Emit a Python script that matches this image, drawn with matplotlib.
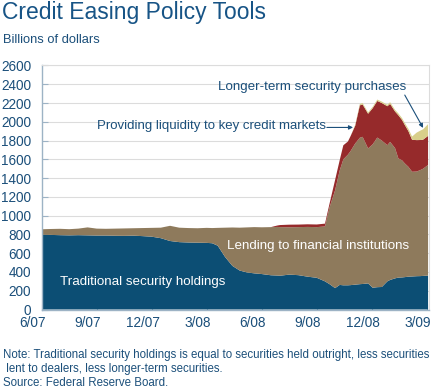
import matplotlib
matplotlib.use("Agg")
import matplotlib.pyplot as plt
import matplotlib.transforms as mtransforms
import numpy as np

plt.rcParams['font.family'] = ['Liberation Sans', 'DejaVu Sans']

# months since start of 6/07
months = [0, 0.5, 1, 1.5, 2, 2.5, 3, 3.5, 4, 4.5, 5, 5.5, 6, 6.5, 7, 7.5, 8, 8.5, 9,
          9.3, 9.6, 10.0, 10.4, 10.8, 11.2, 11.6, 12.0, 12.5,
          12.85, 13.0, 13.5, 14.0, 14.5, 15.0,
          15.45, 15.7, 16.0, 16.25, 16.45, 16.7, 16.85,
          17.1, 17.35, 17.5, 17.8, 18.05, 18.3, 18.55, 18.85,
          19.0, 19.27, 19.45, 19.65, 19.8, 20.0, 20.2, 20.45, 20.65, 20.8, 21.07]

# billions of dollars
traditional = [796, 795, 792, 790, 792, 790, 788, 788, 786, 785, 787, 782, 776, 760, 730, 718, 714, 712, 710,
               706, 680, 560, 465, 415, 395, 385, 378, 365,
               362, 360, 372, 366, 350, 338,
               300, 270, 228, 262, 258, 258, 260,
               265, 270, 272, 278, 232, 238, 240, 300,
               315, 332, 340, 342, 345, 350, 352, 355, 356, 358, 362]
lending = [59, 63, 68, 66, 70, 85, 74, 72, 76, 79, 79, 86, 94, 112, 162, 154, 154, 154, 160,
           162, 190, 312, 409, 457, 480, 493, 498, 513,
           518, 518, 504, 512, 530, 540,
           585, 820, 1042, 1218, 1342, 1392, 1430,
           1505, 1560, 1568, 1438, 1528, 1594, 1560, 1451,
           1471, 1388, 1270, 1248, 1212, 1170, 1116, 1115, 1130, 1142, 1178]
liquidity = [0] * 28 + [15, 22, 28, 27, 28, 28,
                        30, 40, 110, 110, 150, 140, 160,
                        190, 345, 345, 370, 385, 390, 400, 415,
                        405, 390, 460, 430, 410, 380, 340, 335, 320, 310, 310]
longer_term = [0] * 41 + [10, 15, 15, 15, 15, 15, 15, 15,
                          18, 18, 20, 20, 22, 25, 35, 80, 100, 110, 125]

tick_pos = [0, 3, 6, 9, 12, 15, 18, 21]
tick_labels = ['6/07', '9/07', '12/07', '3/08', '6/08', '9/08', '12/08', '3/09']

text_col = '#1b4f7a'
colors = ['#0c4e74', '#8e7a5c', '#962a2b', '#d8cf8a']

fig = plt.figure(figsize=(4.32, 3.91), dpi=100)
ax = fig.add_axes([0.0965, 0.2084, 0.8965, 0.6241])

ax.stackplot(months, traditional, lending, liquidity, longer_term,
             colors=colors, linewidth=0, zorder=2)

ax.set_xlim(0, 21.12)
ax.set_ylim(0, 2600)
ax.set_yticks(range(0, 2601, 200))
ax.yaxis.grid(True, color='#dcdcdc', linewidth=0.8, zorder=0)
ax.set_axisbelow(True)
ax.set_xticks(tick_pos)
ax.set_xticklabels(tick_labels)
ax.tick_params(axis='both', direction='in', length=4, color='#9db3c5',
               labelsize=9.8, labelcolor=text_col)
ax.tick_params(axis='y', pad=7.5)
ax.tick_params(axis='x', pad=5)
offset = mtransforms.ScaledTranslation(-0.09, 0, fig.dpi_scale_trans)
for lab in ax.get_xticklabels():
    lab.set_transform(lab.get_transform() + offset)

for side in ['left', 'bottom']:
    ax.spines[side].set_color('#9db3c5')
    ax.spines[side].set_linewidth(1.0)
for side in ['top', 'right']:
    ax.spines[side].set_color('#dcdcdc')
    ax.spines[side].set_linewidth(0.8)

# labels inside the chart
ax.text(1.0, 290, 'Traditional security holdings', color='white', fontsize=9.6,
        va='center', ha='left', zorder=5)
ax.text(10.1, 680, 'Lending to financial institutions', color='white', fontsize=9.6,
        va='center', ha='left', zorder=5)
ax.text(15.5, 1960, 'Providing liquidity to key credit markets', color=text_col,
        fontsize=9.5, va='center', ha='right', zorder=5)
ax.annotate('', xy=(16.98, 1940), xytext=(15.55, 1940),
            arrowprops=dict(arrowstyle='-|>', color=text_col, lw=0.8,
                            mutation_scale=6, shrinkA=0, shrinkB=0), zorder=5)
ax.text(9.62, 2370, 'Longer-term security purchases', color=text_col,
        fontsize=9.6, va='center', ha='left', zorder=5)
ax.annotate('', xy=(20.8, 1935), xytext=(19.8, 2285),
            arrowprops=dict(arrowstyle='-|>', color=text_col, lw=0.8,
                            mutation_scale=6, shrinkA=0, shrinkB=0), zorder=5)

fig.text(0.004, 0.968, 'Credit Easing Policy Tools', fontsize=16.5, color='#175486',
         va='center', ha='left')
fig.text(0.006, 0.897, 'Billions of dollars', fontsize=9.3, color=text_col,
         va='center', ha='left')
fig.text(0.006, 0.092, 'Note: Traditional security holdings is equal to securities held outright, less securities',
         fontsize=8.3, color=text_col, va='center', ha='left')
fig.text(0.006, 0.056, ' lent to dealers, less longer-term securities.',
         fontsize=8.3, color=text_col, va='center', ha='left')
fig.text(0.006, 0.020, 'Source: Federal Reserve Board.',
         fontsize=8.3, color=text_col, va='center', ha='left')

fig.savefig('out.png', dpi=100)
